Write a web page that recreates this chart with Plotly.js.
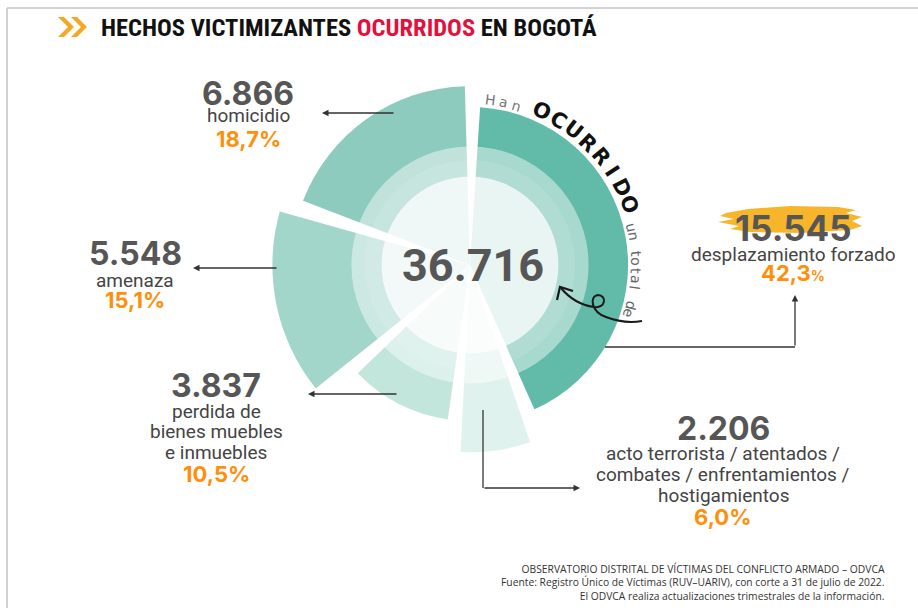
<!DOCTYPE html>
<html>
<head>
<meta charset="utf-8">
<script src="https://cdn.plot.ly/plotly-3.0.1.min.js"></script>
<style>
html,body{margin:0;padding:0;background:#fff;}
#chart{width:918px;height:608px;}
</style>
</head>
<body>
<div id="chart"></div>
<script>
// ---------------- DATA ----------------
const categories = ["desplazamiento forzado", "acto terrorista / atentados / combates / enfrentamientos / hostigamientos", "perdida de bienes muebles e inmuebles", "amenaza", "homicidio"];
const values = [15545, 2206, 3837, 5548, 6866];
const percents = [42.3, 6.0, 10.5, 15.1, 18.7];
const totalVictims = 36716;
const labelLines = [
  ["desplazamiento forzado"],
  ["acto terrorista / atentados /", "combates / enfrentamientos /", "hostigamientos"],
  ["perdida de", "bienes muebles", "e inmuebles"],
  ["amenaza"],
  ["homicidio"]
];

// ---------------- STYLE ----------------
const W = 918, H = 608;
const cx = 470, cy = 265;          // chart centre (px)
const RMAX = 200, RPX = 208;        // radial range and its pixel radius
const sectorRadius = [152, 180, 150, 190, 172];
const sectorColors = ["#62bba8", "#e0f2ed", "#c2e5dc", "#a3d6ca", "#8ccbbd"];
const numColor = "#565656", txtColor = "#444444", pctColor = "#ff8f0a";

function fx(x) { return x / W; }
function fy(y) { return 1 - y / H; }
function fmtNum(v) { return String(v).replace(/\B(?=(\d{3})+(?!\d))/g, "."); }
function fmtPct(p) { return p.toFixed(1).replace(".", ","); }

// angles from the shares; the unlisted remainder becomes the gaps
const sumPct = percents.reduce((a, b) => a + b, 0);
const gapDeg = (100 - sumPct) / percents.length * 3.6;
let a = gapDeg / 2 + 1;
const thetas = [], widths = [];
percents.forEach(p => {
  const w = p * 3.6;
  thetas.push(a + w / 2);
  widths.push(w);
  a += w + gapDeg;
});

const traces = [
  {
    type: "barpolar", r: sectorRadius, theta: thetas, width: widths, base: 0,
    marker: { color: sectorColors, line: { width: 0 } }, hoverinfo: "skip",
    customdata: values, text: categories
  },
  { type: "barpolar", r: [114], theta: [180], width: [360], base: 0,
    marker: { color: "rgba(255,255,255,0.45)", line: { width: 0 } }, hoverinfo: "skip" },
  { type: "barpolar", r: [101], theta: [180], width: [360], base: 0,
    marker: { color: "rgba(255,255,255,0.10)", line: { width: 0 } }, hoverinfo: "skip" },
  { type: "barpolar", r: [85], theta: [180], width: [360], base: 0,
    marker: { color: "rgba(255,255,255,0.72)", line: { width: 0 } }, hoverinfo: "skip" }
];

// ---------------- ANNOTATIONS ----------------
const ann = [];
function addText(x, y, text, size, color, family, weight, xanchor) {
  ann.push({ xref: "paper", yref: "paper", x: fx(x), y: fy(y), text: text, showarrow: false,
    xanchor: xanchor || "center", yanchor: "middle",
    font: { size: size, color: color, family: family, weight: weight || 400 } });
}
const NUMF = "Inter, Roboto, sans-serif";
const LBLF = "Roboto, sans-serif";

// label blocks: [numX, numY, numSize, firstLineY, lineGap, pctY]
const labelPos = [
  [793, 228, 35, 254, 21, 273],
  [723, 428, 32, 453, 21, 517],
  [216, 386, 32, 411, 20.5, 474],
  [135, 253, 32, 280, 21, 300],
  [248, 93, 32, 116, 21, 139]
];
values.forEach((v, i) => {
  const p = labelPos[i];
  addText(p[0], p[1], fmtNum(v), p[2], numColor, NUMF, 700);
  labelLines[i].forEach((ln, k) => addText(p[0], p[3] + k * p[4], ln, 19, txtColor, LBLF, 400));
  const pctText = i === 0 ? fmtPct(percents[i]) + "<span style='font-size:14px'>%</span>" : fmtPct(percents[i]) + "%";
  addText(p[0], p[5], pctText, 22, pctColor, NUMF, 700);
});

// centre total
addText(473, 265, fmtNum(totalVictims), 45, numColor, "Roboto, sans-serif", 700);

// title
ann.push({ xref: "paper", yref: "paper", x: fx(99), y: fy(27), xanchor: "left", yanchor: "middle", showarrow: false,
  text: "HECHOS VICTIMIZANTES <span style='color:#e3103c'>OCURRIDOS</span> EN BOGOTÁ",
  font: { size: 24.5, color: "#111", family: "'Liberation Sans Narrow', 'Roboto Condensed', Roboto, sans-serif", weight: 700 } });

// footer
const footer = [
  "OBSERVATORIO DISTRITAL DE VÍCTIMAS DEL CONFLICTO ARMADO – ODVCA",
  "Fuente: Registro Único de Víctimas (RUV–UARIV), con corte a 31 de julio de 2022.",
  "El ODVCA realiza actualizaciones trimestrales de la información."
];
ann.push({ xref: "paper", yref: "paper", x: fx(887), y: fy(582.5), xanchor: "right", yanchor: "middle",
  align: "right", showarrow: false, text: footer.join("<br>"),
  font: { size: 10.3, color: "#333", family: "'Open Sans', sans-serif" } });

// arrows (straight)
function arrow(tx, ty, fromx, fromy) {
  ann.push({ xref: "paper", yref: "paper", x: fx(tx), y: fy(ty), ax: fromx - tx, ay: fromy - ty,
    text: "", showarrow: true, arrowhead: 2, arrowsize: 1, arrowwidth: 1.3, arrowcolor: "#333" });
}
arrow(322, 113, 395, 113);
arrow(193, 268, 278, 268);
arrow(308, 394, 398, 394);
arrow(580, 488, 483, 488);
arrow(795, 295, 795, 347);

// curved text around the big sector
const arcSegs = [
  { t: "Han", start: 7, step: 4.6, size: 14, color: "#777", weight: 400, r: 166 },
  { t: "OCURRIDO", start: 25, step: 6.3, size: 21, color: "#111", weight: 700, r: 170 },
  { t: "un total de", start: 77, step: 3.0, size: 14, color: "#666", weight: 400, r: 166 }
];
arcSegs.forEach(s => {
  [...s.t].forEach((ch, k) => {
    if (ch === " ") return;
    const ang = s.start + k * s.step;
    const rad = ang * Math.PI / 180;
    const x = cx + s.r * Math.sin(rad), y = cy - s.r * Math.cos(rad);
    ann.push({ xref: "paper", yref: "paper", x: fx(x), y: fy(y), text: ch, showarrow: false,
      xanchor: "center", yanchor: "middle", textangle: ang,
      font: { size: s.size, color: s.color, family: "'DejaVu Sans', sans-serif", weight: s.weight } });
  });
});

// ---------------- SHAPES ----------------
function path(pts) {
  return pts.map(seg => {
    const c = seg[0]; const nums = seg.slice(1);
    const out = [];
    for (let i = 0; i < nums.length; i += 2) out.push(fx(nums[i]).toFixed(5) + "," + fy(nums[i + 1]).toFixed(5));
    return c + " " + out.join(" ");
  }).join(" ");
}
const shapes = [
  // frame
  { type: "line", xref: "paper", yref: "paper", x0: fx(7), x1: fx(918), y0: fy(8), y1: fy(8), line: { color: "#d2d2d2", width: 2 } },
  { type: "line", xref: "paper", yref: "paper", x0: fx(7), x1: fx(7), y0: fy(8), y1: fy(608), line: { color: "#d2d2d2", width: 2 } },
  // title chevrons
  { type: "path", xref: "paper", yref: "paper", layer: "above", fillcolor: "#f7a823", line: { width: 0 },
    path: path([["M", 58, 17], ["L", 64, 17], ["L", 74, 27], ["L", 64, 37], ["L", 58, 37], ["L", 68, 27], ["Z"]]) },
  { type: "path", xref: "paper", yref: "paper", layer: "above", fillcolor: "#f7a823", line: { width: 0 },
    path: path([["M", 71, 17], ["L", 77, 17], ["L", 87, 27], ["L", 77, 37], ["L", 71, 37], ["L", 81, 27], ["Z"]]) },
  // yellow brush behind 15.545
  { type: "path", xref: "paper", yref: "paper", layer: "below", fillcolor: "#f7b52c", line: { width: 0 },
    path: path([["M", 726, 213], ["L", 748, 209], ["L", 790, 206], ["L", 838, 207], ["L", 856, 210], ["L", 846, 213],
      ["L", 862, 217], ["L", 852, 221], ["L", 862, 226], ["L", 850, 230], ["L", 800, 233], ["L", 750, 232],
      ["L", 730, 229], ["L", 739, 226], ["L", 718, 222], ["L", 734, 219], ["L", 720, 216], ["Z"]]) },
  // leader lines
  { type: "line", xref: "paper", yref: "paper", x0: fx(483), x1: fx(483), y0: fy(410), y1: fy(488), line: { color: "#333", width: 1.3 } },
  { type: "line", xref: "paper", yref: "paper", x0: fx(605), x1: fx(795), y0: fy(347), y1: fy(347), line: { color: "#333", width: 1.3 } },
  // hand-drawn swirl arrow
  { type: "path", xref: "paper", yref: "paper", layer: "above", line: { color: "#1a1a1a", width: 2 },
    path: path([["M", 561, 288], ["Q", 574, 304, 594, 307], ["C", 606, 309, 607, 295, 598, 295],
      ["C", 589, 296, 591, 312, 606, 317], ["Q", 624, 324, 642, 321]]) },
  { type: "path", xref: "paper", yref: "paper", layer: "above", line: { color: "#1a1a1a", width: 2.2 },
    path: path([["M", 557, 300], ["L", 560, 287], ["L", 573, 291]]) }
];

const layout = {
  width: W, height: H,
  margin: { l: 0, r: 0, t: 0, b: 0 },
  paper_bgcolor: "#ffffff",
  showlegend: false,
  polar: {
    domain: { x: [fx(cx - RPX), fx(cx + RPX)], y: [fy(cy + RPX), fy(cy - RPX)] },
    bgcolor: "rgba(0,0,0,0)",
    barmode: "overlay",
    hole: 0,
    radialaxis: { visible: false, range: [0, RMAX] },
    angularaxis: { visible: false, rotation: 90, direction: "clockwise", showgrid: false }
  },
  annotations: ann,
  shapes: shapes
};

Plotly.newPlot("chart", traces, layout, { displayModeBar: false, staticPlot: true });
</script>
</body>
</html>
